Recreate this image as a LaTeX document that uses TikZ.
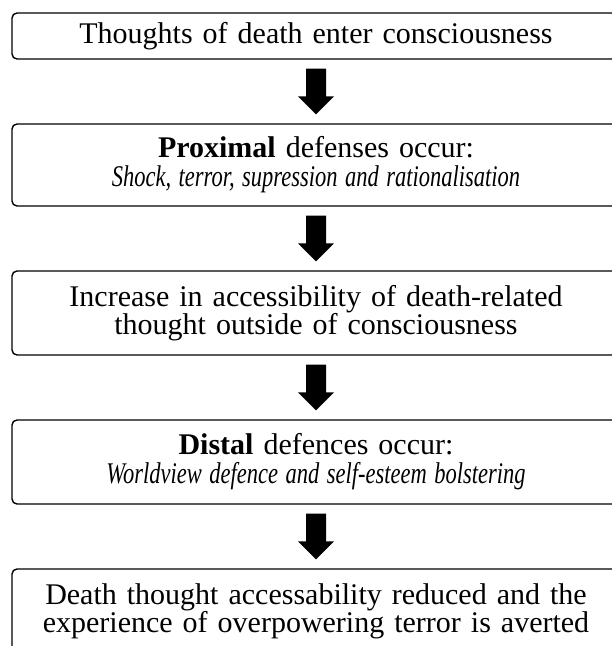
\documentclass[tikz,border=0pt]{standalone}
\usepackage{fontspec}
\setmainfont{Liberation Serif}
\usetikzlibrary{calc}

\tikzset{
  stage/.style={draw=black, line width=1.4pt, rounded corners=5pt,
    minimum width=608pt, text width=596pt, align=center, inner sep=0pt,
    font=\fontsize{30}{28}\selectfont},
  blockarrow/.style={fill=black}
}

% Narrow italic used for the second line of the defence boxes
\newcommand{\narrowit}[1]{\scalebox{0.75}[1]{\itshape #1}}

% Thick downward block arrow from the bottom of one stage to the top of the next
\newcommand{\flowarrow}[2]{%
  \fill[blockarrow] let \p1=(#1.south), \p2=(#2.north) in
    (\x1-10pt,\y1-9pt) -- (\x1+10pt,\y1-9pt) -- (\x1+10pt,\y2+27pt)
    -- (\x1+18pt,\y2+27pt) -- (\x1,\y2+9pt) -- (\x1-18pt,\y2+27pt)
    -- (\x1-10pt,\y2+27pt) -- cycle;}

\begin{document}
\begin{tikzpicture}[x=1pt,y=1pt]
  \useasboundingbox (0,0) rectangle (612,-646);
  \clip (0,0) rectangle (612,-646);

  \node[stage, minimum height=46pt] (b1) at (316,-36)
    {Thoughts of death enter consciousness};
  \node[stage, minimum height=82pt] (b2) at (316,-165)
    {\textbf{Proximal} defenses occur:\\[1pt]
     \narrowit{Shock, terror, supression and rationalisation}};
  \node[stage, minimum height=84pt] (b3) at (316,-313)
    {Increase in accessibility of death-related\\
     thought outside of consciousness};
  \node[stage, minimum height=84pt] (b4) at (316,-462)
    {\textbf{Distal} defences occur:\\[1pt]
     \narrowit{Worldview defence and self-esteem bolstering}};
  \node[stage, minimum height=84pt] (b5) at (316,-611)
    {Death thought accessability reduced and the\\
     experience of overpowering terror is averted};

  \flowarrow{b1}{b2}
  \flowarrow{b2}{b3}
  \flowarrow{b3}{b4}
  \flowarrow{b4}{b5}
\end{tikzpicture}
\end{document}
